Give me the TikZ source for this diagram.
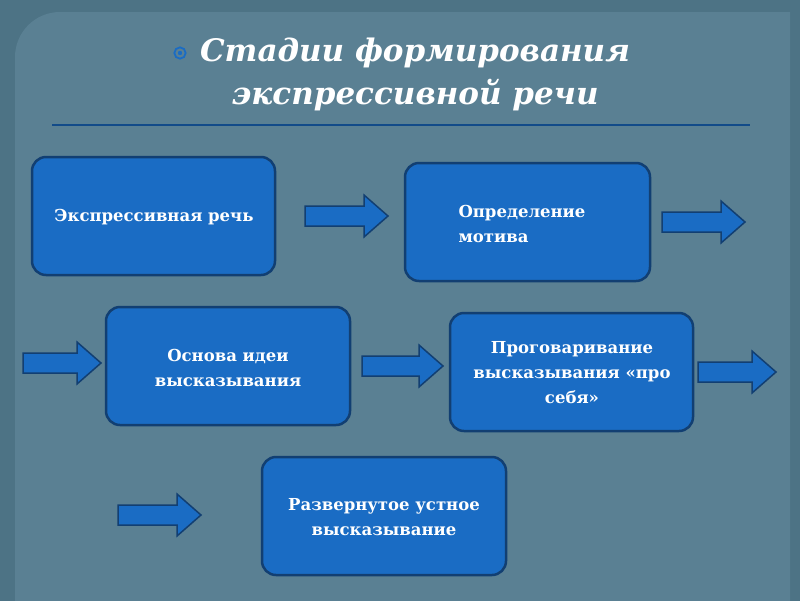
\documentclass[tikz,border=0pt]{standalone}
\usepackage{fontspec}
\setmainfont{DejaVu Serif}
\begin{document}
\begin{tikzpicture}[x=1pt,y=-1pt,
 box/.style={draw=boxedge,line width=2.5pt,fill=boxfill,rounded corners=14pt},
 lbl/.style={text=white,font=\bfseries\fontsize{16.5}{25}\selectfont,align=center},
 barrow/.style={draw=boxedge,line width=1.5pt,fill=boxfill}]
\definecolor{boxfill}{HTML}{1A6CC4}
\definecolor{boxedge}{HTML}{123F72}
\definecolor{outer}{HTML}{4D7385}
\definecolor{panel}{HTML}{5A8093}
\clip (0,0) rectangle (800,600);
\useasboundingbox (0,0) rectangle (800,600);
\fill[outer] (-2,-2) rectangle (802,602);
\fill[panel] (15,610) -- (15,57) arc[start angle=180,end angle=90,radius=45pt] -- (790,12) -- (790,610) -- cycle;
% title
\node[circle,draw=boxfill,line width=1.8pt,inner sep=4pt] (bul) at (180,53) {};
\fill[boxfill] (bul) circle (2.2pt);
\node[text=white,font=\bfseries\itshape\fontsize{31}{43}\selectfont,align=center] (title) at (415,74) {Стадии формирования\\экспрессивной речи};
\coordinate (l1) at (52,125); \coordinate (l2) at (750,125);
\draw[boxfill!70!black,line width=1.5pt] (l1) -- (l2);
% boxes
\node[box,minimum width=243pt,minimum height=118pt] (b1) at (153.5,216) {};
\node[lbl] (t1) at (154,217) {Экспрессивная речь};
\node[box,minimum width=245pt,minimum height=118pt] (b2) at (527.5,222) {};
\node[lbl,align=left,anchor=west] (t2) at (455,224) {Определение\\мотива};
\node[box,minimum width=244pt,minimum height=118pt] (b3) at (228,366) {};
\node[lbl] (t3) at (228,368) {Основа идеи\\высказывания};
\node[box,minimum width=243pt,minimum height=118pt] (b4) at (571.5,372) {};
\node[lbl] (t4) at (572,373) {Проговаривание\\высказывания «про\\себя»};
\node[box,minimum width=244pt,minimum height=118pt] (b5) at (384,516) {};
\node[lbl] (t5) at (384,517) {Развернутое устное\\высказывание};
% block arrows
\newcommand\blockarrow[3]{%
 \draw[barrow] (#1,#2-10) -- (#1+#3-24,#2-10) -- (#1+#3-24,#2-21) -- (#1+#3,#2) -- (#1+#3-24,#2+21) -- (#1+#3-24,#2+10) -- (#1,#2+10) -- cycle;}
\blockarrow{305}{216}{83}
\blockarrow{662}{222}{83}
\blockarrow{23}{363}{78}
\blockarrow{362}{366}{81}
\blockarrow{698}{372}{78}
\blockarrow{118}{515}{83}
\end{tikzpicture}
\end{document}
